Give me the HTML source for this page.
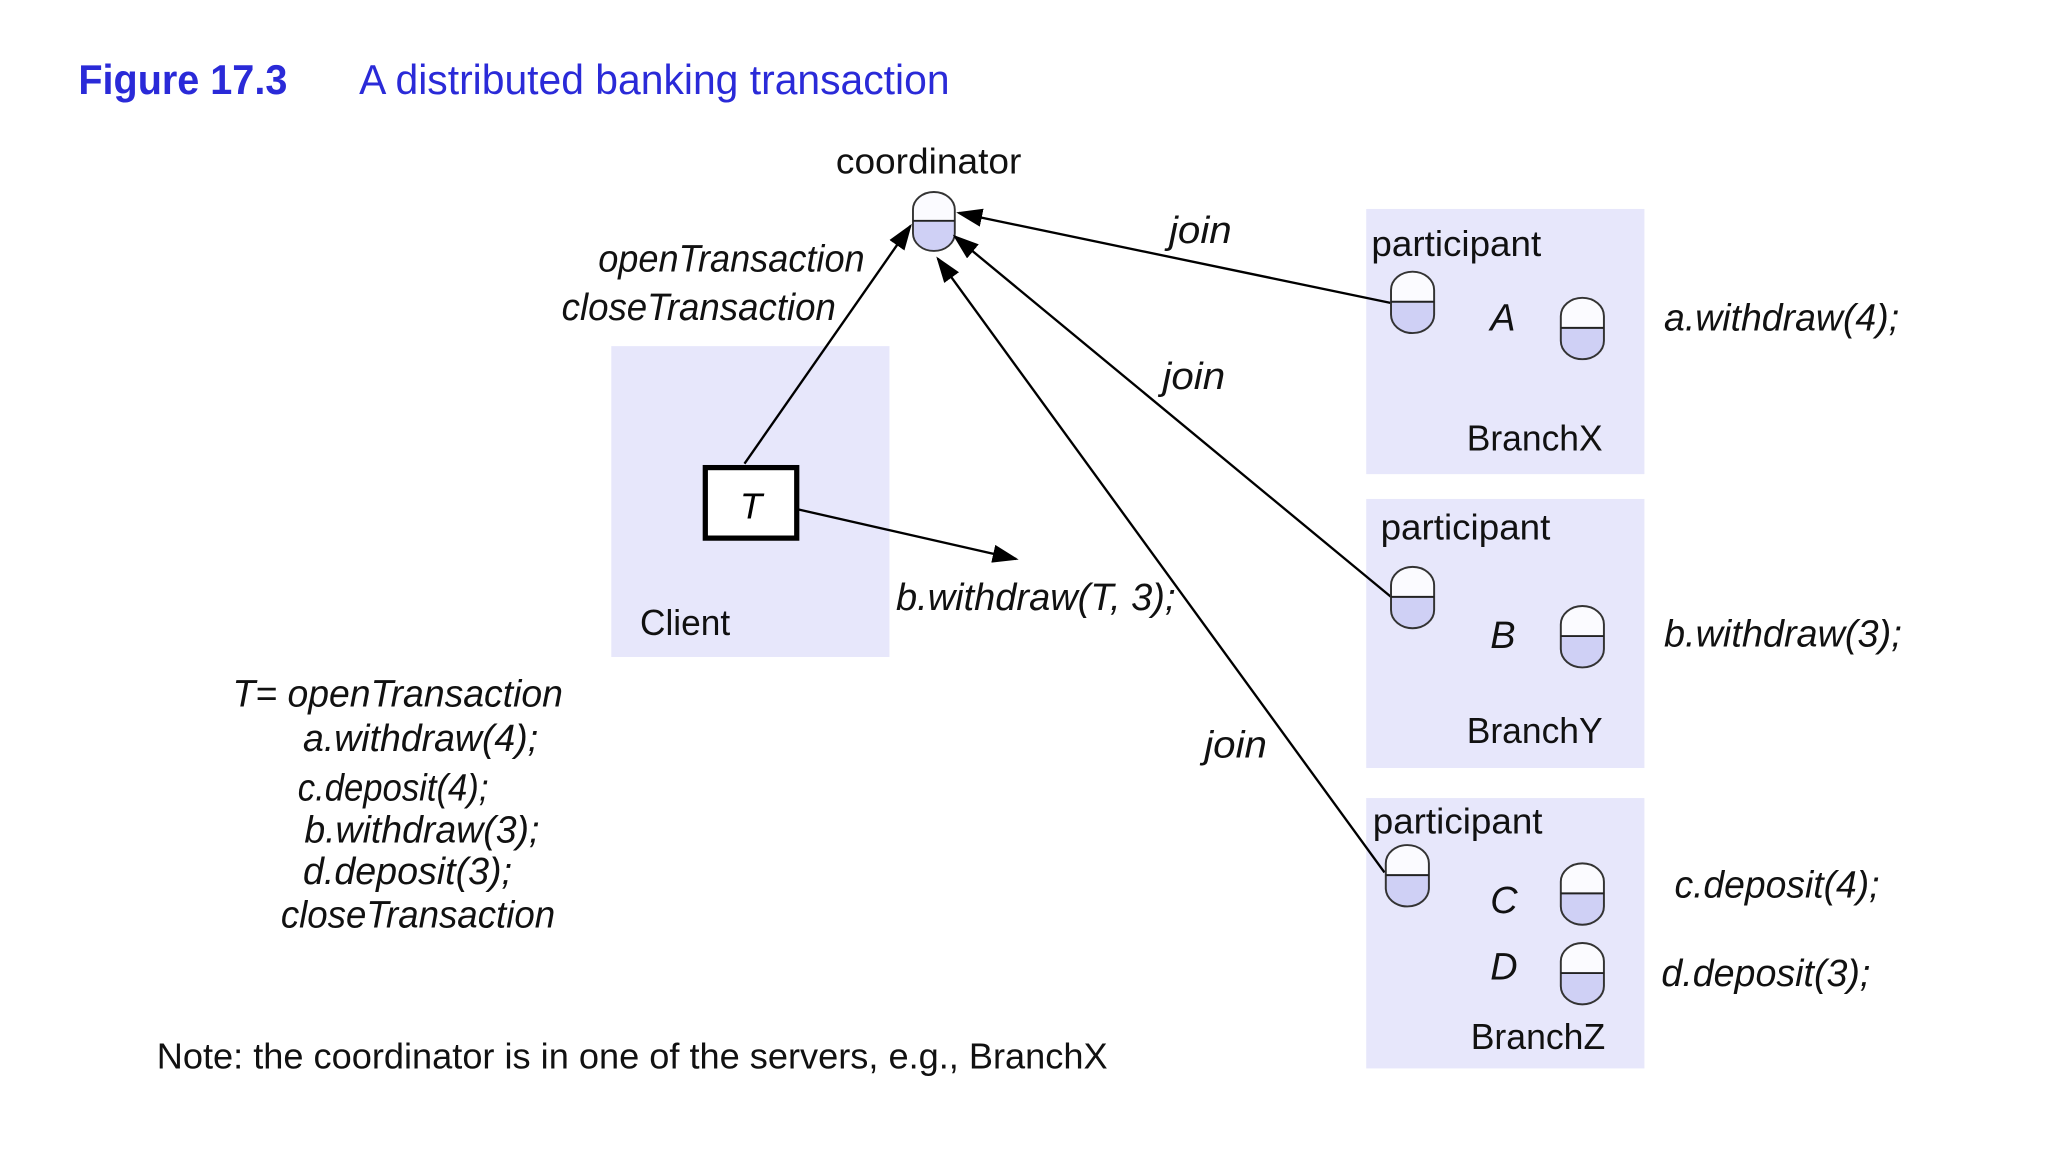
<!DOCTYPE html>
<html><head><meta charset="utf-8"><style>html,body{margin:0;padding:0;background:#fff}svg{display:block}</style></head>
<body>
<svg width="2048" height="1152" viewBox="0 0 1568 882" preserveAspectRatio="none" xmlns="http://www.w3.org/2000/svg" font-family="Liberation Sans, sans-serif">
<defs>
<marker id="ah" markerWidth="10" markerHeight="8" refX="9" refY="4" orient="auto" markerUnits="userSpaceOnUse" viewBox="0 0 10 8"><path d="M0,0 L10,4 L0,8 z" fill="#000"/></marker>
<marker id="ah2" markerWidth="20" markerHeight="14" refX="18" refY="7" orient="auto" markerUnits="userSpaceOnUse"><path d="M0,0 L20,7 L0,14 z" fill="#000"/></marker>
<g id="cap"><path d="M0,23 V14 A16.5,14 0 0 1 33,14 V23 Z" fill="#fbfbff"/><path d="M0,23 V33 A16.5,14 0 0 0 33,33 V23 Z" fill="#cfd0f5"/><rect x="0" y="0" width="33" height="47" rx="16.5" ry="14" fill="none" stroke="#333" stroke-width="1.5"/><line x1="0" y1="23" x2="33" y2="23" stroke="#222" stroke-width="1.5"/></g>
</defs>
<text x="60" y="72" font-size="32" font-weight="bold" fill="#2a2ad8" textLength="160" lengthAdjust="spacingAndGlyphs">Figure 17.3</text>
<text x="275" y="72" font-size="32" fill="#2a2ad8" textLength="452" lengthAdjust="spacingAndGlyphs">A distributed banking transaction</text>

<rect x="468" y="265" width="213" height="238" fill="#e7e7fb"/>
<rect x="1046" y="160" width="213" height="203" fill="#e7e7fb"/>
<rect x="1046" y="382" width="213" height="206" fill="#e7e7fb"/>
<rect x="1046" y="611" width="213" height="207" fill="#e7e7fb"/>

<text x="711" y="133" font-size="28" text-anchor="middle" fill="#111" textLength="142" lengthAdjust="spacingAndGlyphs">coordinator</text>
<g transform="translate(699,147) scale(0.97,0.96)"><use href="#cap"/></g>

<rect x="540" y="358" width="70" height="54" fill="#fff" stroke="#000" stroke-width="4"/>
<text x="575" y="397" font-size="28" font-style="italic" text-anchor="middle">T</text>
<text x="490" y="486" font-size="28" fill="#111" textLength="69" lengthAdjust="spacingAndGlyphs">Client</text>

<g stroke="#000" stroke-width="1.8" fill="none">
<line x1="570" y1="355" x2="697" y2="173" marker-end="url(#ah2)"/>
<line x1="1065" y1="232" x2="734" y2="163" marker-end="url(#ah2)"/>
<line x1="1065" y1="457" x2="731" y2="181" marker-end="url(#ah2)"/>
<line x1="1060" y1="668" x2="718" y2="198" marker-end="url(#ah2)"/>
<line x1="611" y1="390" x2="778" y2="428" marker-end="url(#ah2)"/>
</g>

<g font-size="29" font-style="italic" fill="#111">
<text x="458" y="208" textLength="204" lengthAdjust="spacingAndGlyphs">openTransaction</text>
<text x="430" y="245" textLength="210" lengthAdjust="spacingAndGlyphs">closeTransaction</text>
<text x="686" y="467" textLength="214" lengthAdjust="spacingAndGlyphs">b.withdraw(T, 3);</text>
<text x="895" y="186" textLength="48" lengthAdjust="spacingAndGlyphs">join</text>
<text x="890" y="298" textLength="48" lengthAdjust="spacingAndGlyphs">join</text>
<text x="922" y="580" textLength="48" lengthAdjust="spacingAndGlyphs">join</text>
<text x="178" y="541" textLength="253" lengthAdjust="spacingAndGlyphs">T=  openTransaction</text>
<text x="232" y="575" textLength="180" lengthAdjust="spacingAndGlyphs">a.withdraw(4);</text>
<text x="228" y="613" textLength="146" lengthAdjust="spacingAndGlyphs">c.deposit(4);</text>
<text x="233" y="645" textLength="180" lengthAdjust="spacingAndGlyphs">b.withdraw(3);</text>
<text x="232" y="677" textLength="160" lengthAdjust="spacingAndGlyphs">d.deposit(3);</text>
<text x="215" y="710" textLength="210" lengthAdjust="spacingAndGlyphs">closeTransaction</text>
<text x="1274" y="253" textLength="180" lengthAdjust="spacingAndGlyphs">a.withdraw(4);</text>
<text x="1274" y="495" textLength="182" lengthAdjust="spacingAndGlyphs">b.withdraw(3);</text>
<text x="1282" y="687" textLength="157" lengthAdjust="spacingAndGlyphs">c.deposit(4);</text>
<text x="1272" y="755" textLength="160" lengthAdjust="spacingAndGlyphs">d.deposit(3);</text>
<text x="1141" y="253">A</text>
<text x="1141" y="496">B</text>
<text x="1141" y="699">C</text>
<text x="1141" y="750">D</text>
</g>
<g font-size="28" fill="#111">
<text x="1050" y="196" textLength="130" lengthAdjust="spacingAndGlyphs">participant</text>
<text x="1057" y="413" textLength="130" lengthAdjust="spacingAndGlyphs">participant</text>
<text x="1051" y="638" textLength="130" lengthAdjust="spacingAndGlyphs">participant</text>
<text x="1123" y="345" textLength="104" lengthAdjust="spacingAndGlyphs">BranchX</text>
<text x="1123" y="569" textLength="104" lengthAdjust="spacingAndGlyphs">BranchY</text>
<text x="1126" y="803" textLength="103" lengthAdjust="spacingAndGlyphs">BranchZ</text>
<text x="120" y="818" textLength="728" lengthAdjust="spacingAndGlyphs">Note: the coordinator is in one of the servers, e.g., BranchX</text>
</g>
<use href="#cap" x="1065" y="208"/>
<use href="#cap" x="1195" y="228"/>
<use href="#cap" x="1065" y="434"/>
<use href="#cap" x="1195" y="464"/>
<use href="#cap" x="1061" y="647"/>
<use href="#cap" x="1195" y="661"/>
<use href="#cap" x="1195" y="722"/>
</svg>
</body></html>
